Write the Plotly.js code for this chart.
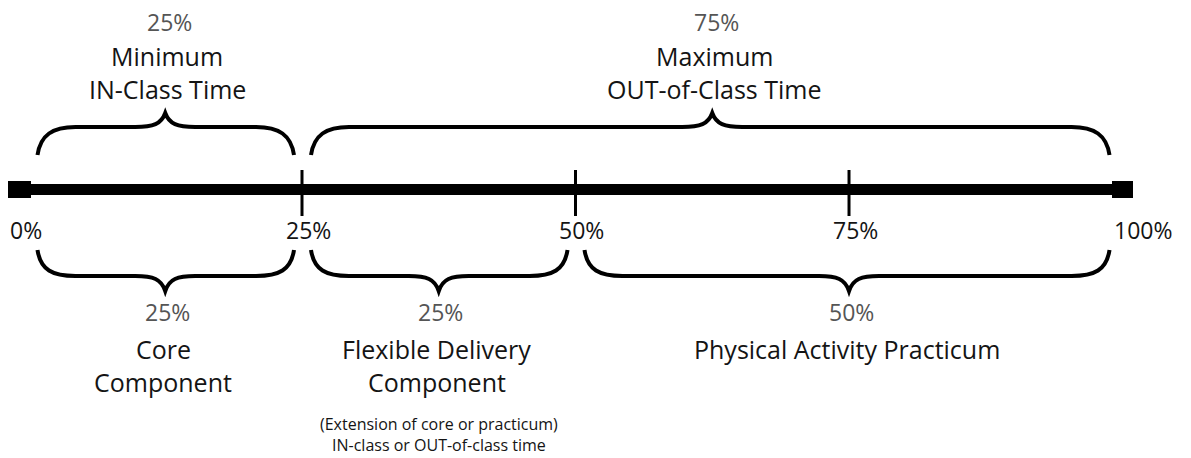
<!DOCTYPE html>
<html>
<head>
<meta charset="utf-8">
<script src="https://cdn.plot.ly/plotly-3.0.1.min.js"></script>
<style>html,body{margin:0;padding:0;background:#fff;}#chart{width:1191px;height:458px;}</style>
</head>
<body>
<div id="chart"></div>
<script>
// ---- data ----
const tickValues = [0, 25, 50, 75, 100];
const tickLabels = ['0%', '25%', '50%', '75%', '100%'];

const topStarts = [0, 25];
const topEnds = [25, 100];
const topPercents = ['25%', '75%'];
const topLine1 = ['Minimum', 'Maximum'];
const topLine2 = ['IN-Class Time', 'OUT-of-Class Time'];

const botStarts = [0, 25, 50];
const botEnds = [25, 50, 100];
const botPercents = ['25%', '25%', '50%'];
const botLine1 = ['Core', 'Flexible Delivery', 'Physical Activity Practicum'];
const botLine2 = ['Component', 'Component', ''];

const noteLines = ['(Extension of core or practicum)', 'IN-class or OUT-of-class time'];

// ---- layout helpers ----
const W = 1191, H = 458;
const X0 = -2.605, X1 = 106.26;
const d2px = d => (d - X0) * W / (X1 - X0);
const px2d = p => X0 + p * (X1 - X0) / W;

const FONT = 'Open Sans, Lato, sans-serif';
const TEXT = '#141414';
const GRAY = '#555555';

function bracePath(start, end, tip, body, peak) {
  const a = d2px(start) + 9;
  const b = d2px(end) - (end === 100 ? 13 : 8);
  const m = d2px((start + end) / 2);
  const s = Math.sign(tip - body); // +1 for top braces (tip below body)
  const pts = (x, y) => px2d(x).toFixed(4) + ',' + y.toFixed(2);
  return 'M' + pts(a, tip) +
    ' C' + pts(a + 3, tip - s * 20) + ' ' + pts(a + 15, body) + ' ' + pts(a + 38, body) +
    ' L' + pts(m - 30, body) +
    ' C' + pts(m - 12, body) + ' ' + pts(m - 4, body - s * 3) + ' ' + pts(m, peak) +
    ' C' + pts(m + 4, body - s * 3) + ' ' + pts(m + 12, body) + ' ' + pts(m + 30, body) +
    ' L' + pts(b - 38, body) +
    ' C' + pts(b - 15, body) + ' ' + pts(b - 3, tip - s * 20) + ' ' + pts(b, tip);
}

const shapes = [];
const annotations = [];
const LINE_Y = 189.5;

// end caps
shapes.push({type: 'rect', xref: 'x', yref: 'y', xsizemode: 'pixel', xanchor: tickValues[0],
  x0: -20.5, x1: 2.5, y0: 181, y1: 198, fillcolor: '#000', line: {width: 0}});
shapes.push({type: 'rect', xref: 'x', yref: 'y', xsizemode: 'pixel', xanchor: tickValues[tickValues.length - 1],
  x0: -10.5, x1: 10.5, y0: 181, y1: 198, fillcolor: '#000', line: {width: 0}});

// inner ticks
const tickX = [], tickY = [];
tickValues.slice(1, -1).forEach(v => { tickX.push(v, v, null); tickY.push(170, 216, null); });

// tick labels
tickValues.forEach((v, i) => {
  const isEnd = (i === 0 || i === tickValues.length - 1);
  annotations.push({x: v, y: 230, xref: 'x', yref: 'y', text: tickLabels[i], showarrow: false,
    xanchor: isEnd ? 'left' : 'center', xshift: i === 0 ? -21 : (isEnd ? -11 : 6),
    yanchor: 'middle', font: {family: FONT, size: 23, color: TEXT}});
});

// top braces
topStarts.forEach((s, i) => {
  const e = topEnds[i];
  shapes.push({type: 'path', xref: 'x', yref: 'y', path: bracePath(s, e, 155, 127, 113),
    line: {color: '#000', width: 4}});
  const c = (s + e) / 2;
  annotations.push({x: c, y: 22, text: topPercents[i], showarrow: false, xshift: 4, yanchor: 'middle',
    font: {family: FONT, size: 23, color: GRAY}});
  annotations.push({x: c, y: 55.5, text: topLine1[i], showarrow: false, xshift: 2, yanchor: 'middle',
    font: {family: FONT, size: 25, color: TEXT}});
  annotations.push({x: c, y: 88.5, text: topLine2[i], showarrow: false, xshift: 2, yanchor: 'middle',
    font: {family: FONT, size: 25, color: TEXT}});
});

// bottom braces
botStarts.forEach((s, i) => {
  const e = botEnds[i];
  shapes.push({type: 'path', xref: 'x', yref: 'y', path: bracePath(s, e, 250, 276, 291),
    line: {color: '#000', width: 4}});
  const c = (s + e) / 2;
  annotations.push({x: c, y: 312, text: botPercents[i], showarrow: false, xshift: 2, yanchor: 'middle',
    font: {family: FONT, size: 23, color: GRAY}});
  annotations.push({x: c, y: 349, text: botLine1[i], showarrow: false, xshift: -2, yanchor: 'middle',
    font: {family: FONT, size: 25, color: TEXT}});
  if (botLine2[i]) {
    annotations.push({x: c, y: 382, text: botLine2[i], showarrow: false, xshift: -2, yanchor: 'middle',
      font: {family: FONT, size: 25, color: TEXT}});
  }
});

// note under the flexible delivery component (one two-line text)
const noteX = (botStarts[1] + botEnds[1]) / 2;
annotations.push({x: noteX, y: 457, text: noteLines.join('<br>'), showarrow: false,
  yanchor: 'bottom', borderpad: 0, font: {family: FONT, size: 16, color: TEXT}});

const traces = [
  {type: 'scatter', mode: 'lines', x: [tickValues[0], tickValues[tickValues.length - 1]], y: [LINE_Y, LINE_Y],
   line: {color: '#000', width: 11}, hoverinfo: 'skip', showlegend: false},
  {type: 'scatter', mode: 'lines', x: tickX, y: tickY,
   line: {color: '#000', width: 3}, hoverinfo: 'skip', showlegend: false}
];

const layout = {
  width: W, height: H,
  margin: {l: 0, r: 0, t: 0, b: 0, pad: 0},
  paper_bgcolor: '#fff', plot_bgcolor: '#fff',
  xaxis: {range: [X0, X1], visible: false, fixedrange: true},
  yaxis: {range: [H, 0], visible: false, fixedrange: true},
  showlegend: false,
  shapes: shapes,
  annotations: annotations
};

Plotly.newPlot('chart', traces, layout, {staticPlot: true, displayModeBar: false});
</script>
</body>
</html>
